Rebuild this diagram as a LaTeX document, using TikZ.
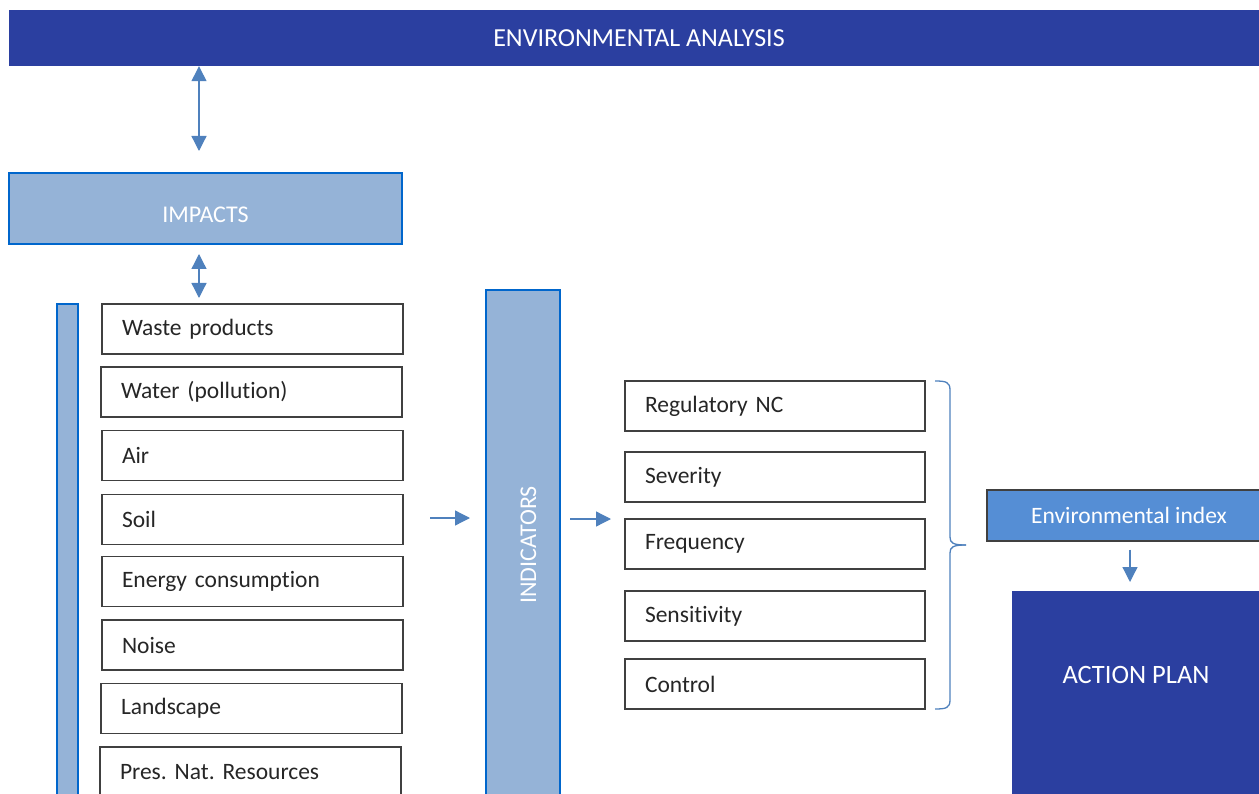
\documentclass[tikz,border=0pt]{standalone}
\usepackage{fontspec}
\setmainfont{Carlito}[Ligatures={NoCommon}]
\frenchspacing
\usetikzlibrary{arrows.meta}
\definecolor{darkblue}{RGB}{43,63,160}
\definecolor{lightblue}{RGB}{149,179,215}
\definecolor{edgeblue}{RGB}{0,102,204}
\definecolor{arrowblue}{RGB}{79,129,189}
\definecolor{idxblue}{RGB}{85,142,213}
\definecolor{boxgray}{RGB}{64,64,64}
\tikzset{
  itembox/.style={draw=boxgray, line width=1.3pt, fill=white, minimum width=301pt, minimum height=50pt,
    text width=261pt, inner xsep=20pt, inner ysep=0pt, align=left, font=\fontsize{23.5}{28}\selectfont, text=black!85},
  critbox/.style={itembox, minimum width=300pt, text width=260pt},
  barbox/.style={draw=edgeblue, line width=1.8pt, fill=lightblue, inner sep=0pt},
  conn/.style={draw=arrowblue, line width=1.3pt, -{Triangle[width=15pt,length=15pt]}},
  dconn/.style={draw=arrowblue, line width=1.3pt, {Triangle[width=15pt,length=15pt]}-{Triangle[width=15pt,length=15pt]}},
  bracestyle/.style={draw=arrowblue, line width=1.3pt},
}
\begin{document}
\begin{tikzpicture}[x=1pt,y=-1pt]
\useasboundingbox (0,0) rectangle (1259,794);
\clip (0,0) rectangle (1259,794);

% header
\node[fill=darkblue, minimum width=1260pt, minimum height=56pt, inner sep=0pt, text=white,
  font=\fontsize{26}{30}\selectfont] (hdr) at (639,38) {ENVIRONMENTAL ANALYSIS};
\coordinate (a1) at (199,151);
\draw[dconn] (hdr.south -| a1) -- (a1);

% impacts
\node[barbox, minimum width=393pt, minimum height=71pt, text=white, font=\fontsize{24}{28}\selectfont] (imp) at (205.5,208.5) {\raisebox{-14pt}[0pt][0pt]{IMPACTS}};
\coordinate (a2s) at (199,254);
\coordinate (a2e) at (199,298);
\draw[dconn] (a2s) -- (a2e);

% left bar
\node[barbox, minimum width=21pt, minimum height=500pt] (lbar) at (67.5,554) {};

% items
\node[itembox] (waste) at (252.5,329) {Waste products};
\node[itembox] (water) at (251.5,392) {Water (pollution)};
\node[itembox] (air) at (252.5,455.5) {Air};
\node[itembox] (soil) at (252.5,519.5) {Soil};
\node[itembox] (energy) at (252.5,581.5) {Energy consumption};
\node[itembox] (noise) at (252.5,645) {Noise};
\node[itembox] (land) at (251.5,708.5) {Landscape};
\node[itembox] (pres) at (250.5,772) {Pres. Nat. Resources};

% indicators
\node[barbox, rotate=90, minimum width=510pt, minimum height=74pt, text=white, font=\fontsize{24}{28}\selectfont] (ind) at (523,545) {\raisebox{-13pt}[0pt][0pt]{INDICATORS}};
\coordinate (a3s) at (430,518);
\coordinate (a3e) at (470,518);
\draw[conn] (a3s) -- (a3e);
\coordinate (a4s) at (570,519);
\coordinate (a4e) at (611,519);
\draw[conn] (a4s) -- (a4e);

% criteria
\node[critbox] (reg) at (775,406) {Regulatory NC};
\node[critbox] (sev) at (775,477) {Severity};
\node[critbox] (freq) at (775,544) {Frequency};
\node[critbox] (sens) at (775,616) {Sensitivity};
\node[critbox] (ctrl) at (775,684) {Control};

% brace
\coordinate (btop) at (935,381);
\coordinate (bbot) at (935,709);
\coordinate (btip) at (966,545);
\draw[bracestyle] (btop) .. controls (946,381) and (950,382) .. (950,390) -- (950,537)
  .. controls (950,543) and (953,545) .. (btip);
\draw[bracestyle] (bbot) .. controls (946,709) and (950,708) .. (950,700) -- (950,553)
  .. controls (950,547) and (953,545) .. (btip);

% environmental index
\node[draw=boxgray, line width=1.3pt, fill=idxblue, minimum width=284pt, minimum height=51pt, inner sep=0pt,
  text=white, font=\fontsize{23.5}{27}\selectfont] (idx) at (1129,515.5) {Environmental index};
\coordinate (a5e) at (1130,582);
\draw[conn] (idx.south -| a5e) ++(0,8) -- (a5e);

% action plan
\node[fill=darkblue, minimum width=248pt, minimum height=210pt, inner sep=0pt,
  label={[text=white, font=\fontsize{26.5}{31}\selectfont, yshift=21pt]center:ACTION PLAN}] (plan) at (1136,696) {};
\end{tikzpicture}
\end{document}
